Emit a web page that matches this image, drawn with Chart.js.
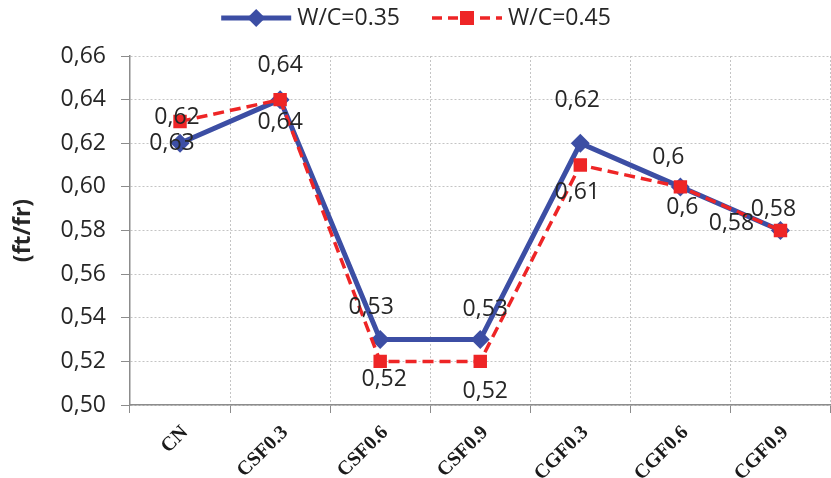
<!DOCTYPE html>
<html>
<head>
<meta charset="utf-8">
<script src="https://cdn.jsdelivr.net/npm/chart.js@4.4.0/dist/chart.umd.min.js"></script>
<style>
  html, body { margin: 0; padding: 0; background: #fff; overflow: hidden; }
  #wrap { position: relative; width: 840px; height: 478px; }
</style>
</head>
<body>
<div id="wrap"><canvas id="chart" width="840" height="478"></canvas></div>
<script>
// ---------------------------------------------------------------------------
// Data
// ---------------------------------------------------------------------------
const categories = ["CN", "CSF0.3", "CSF0.6", "CSF0.9", "CGF0.3", "CGF0.6", "CGF0.9"];
const wc035 = [0.62, 0.64, 0.53, 0.53, 0.62, 0.60, 0.58];
const wc045 = [0.63, 0.64, 0.52, 0.52, 0.61, 0.60, 0.58];
const yTicks = [0.50, 0.52, 0.54, 0.56, 0.58, 0.60, 0.62, 0.64, 0.66];

// label placement (pixels, relative to the point) — mirrors the hand-placed Excel labels
const labelShift035 = [[-3, -26], [0, -34], [-9, -32], [5, -30], [-3, -43], [-12, -29], [-7, -21]];
const labelShift045 = [[-8, 22], [0, 23], [4, 18], [5, 30], [-3, 27], [2, 21], [-49, -7]];

const BLUE = "#3c4ea4";
const RED = "#ee2526";
const TEXT = "#262626";
const SANS = "'Open Sans', sans-serif";
const FONT_PX = 23;

const comma = (v) => String(v).replace(".", ",");

// ---------------------------------------------------------------------------
// Value labels
// ---------------------------------------------------------------------------
const valueLabels = {
    id: "valueLabels",
    afterDatasetsDraw(chart) {
        const ctx = chart.ctx;
        const shifts = [labelShift035, labelShift045];
        ctx.save();
        ctx.font = FONT_PX + "px " + SANS;
        ctx.fillStyle = TEXT;
        ctx.textAlign = "center";
        ctx.textBaseline = "middle";
        chart.data.datasets.forEach((ds, di) => {
            const meta = chart.getDatasetMeta(di);
            meta.data.forEach((pt, i) => {
                const [dx, dy] = shifts[di][i];
                ctx.fillText(comma(ds.data[i]), pt.x + dx, pt.y + dy);
            });
        });
        ctx.restore();
    },
};

// ---------------------------------------------------------------------------
// Legend: line + marker swatches, centred above the plot (Excel style)
// ---------------------------------------------------------------------------
const lineLegend = {
    id: "lineLegend",
    afterDraw(chart) {
        const ctx = chart.ctx;
        const cy = 18, swW = 70, gap = 6, itemGap = 32, centre = 416;
        ctx.save();
        ctx.font = FONT_PX + "px " + SANS;
        const items = chart.data.datasets.map((ds) => ({ ds, w: swW + gap + ctx.measureText(ds.label).width }));
        const total = items.reduce((s, it) => s + it.w, 0) + itemGap * (items.length - 1);
        let x = centre - total / 2;
        items.forEach(({ ds }, i) => {
            const dashed = Array.isArray(ds.borderDash) && ds.borderDash.length > 0;
            ctx.strokeStyle = ds.borderColor;
            ctx.fillStyle = ds.borderColor;
            ctx.lineWidth = ds.borderWidth;
            ctx.setLineDash(dashed ? [10, 6] : []);
            ctx.beginPath();
            ctx.moveTo(x, cy);
            ctx.lineTo(x + swW, cy);
            ctx.stroke();
            ctx.setLineDash([]);
            const mx = x + swW / 2;
            if (dashed) {
                ctx.fillRect(mx - 7, cy - 7, 14, 14);
            } else {
                ctx.beginPath();
                ctx.moveTo(mx, cy - 9);
                ctx.lineTo(mx + 9, cy);
                ctx.lineTo(mx, cy + 9);
                ctx.lineTo(mx - 9, cy);
                ctx.closePath();
                ctx.fill();
            }
            ctx.fillStyle = TEXT;
            ctx.textAlign = "left";
            ctx.textBaseline = "middle";
            ctx.fillText(ds.label, x + swW + gap, cy);
            x += items[i].w + itemGap;
        });
        ctx.restore();
    },
};

// ---------------------------------------------------------------------------
// Chart
// ---------------------------------------------------------------------------
const gridStyle = {
    color: "#c4c4c4",
    tickColor: "#8c8c8c",
    tickBorderDash: [],
    drawOnChartArea: true,
};

new Chart(document.getElementById("chart"), {
    type: "line",
    data: {
        labels: categories,
        datasets: [
            {
                label: "W/C=0.35",
                data: wc035,
                borderColor: BLUE,
                backgroundColor: BLUE,
                borderWidth: 5,
                pointStyle: "rectRot",
                pointRadius: 9.5,
                pointBorderWidth: 0,
                tension: 0,
                order: 2,
            },
            {
                label: "W/C=0.45",
                data: wc045,
                borderColor: RED,
                backgroundColor: RED,
                borderWidth: 3.5,
                borderDash: [11, 6],
                pointStyle: "rect",
                pointRadius: 9.5,
                pointBorderWidth: 0,
                tension: 0,
                order: 1,
            },
        ],
    },
    options: {
        responsive: false,
        animation: false,
        layout: { padding: { top: 56, left: 0, right: 0, bottom: 0 } },
        plugins: {
            tooltip: { enabled: false },
            legend: { display: false },
        },
        scales: {
            x: {
                type: "category",
                offset: true,
                afterFit(scale) { scale.height = 73; },
                grid: { ...gridStyle, offset: true, tickLength: 8 },
                border: { color: "#8c8c8c", width: 1.5, dash: [2, 2] },
                ticks: {
                    color: "#1a1a1a",
                    autoSkip: false,
                    minRotation: 45,
                    maxRotation: 45,
                    padding: 8,
                    labelOffset: 5,
                    font: { family: "'Liberation Serif', 'Times New Roman', serif", size: 20, weight: "bold" },
                },
            },
            y: {
                min: 0.50,
                max: 0.66,
                afterFit(scale) { scale.width = 130; },
                afterBuildTicks(scale) { scale.ticks = yTicks.map((v) => ({ value: v })); },
                grid: { ...gridStyle, tickLength: 9 },
                border: { color: "#8c8c8c", width: 1.5, dash: [2, 2] },
                ticks: {
                    color: TEXT,
                    padding: 15,
                    font: { family: SANS, size: FONT_PX },
                    callback: (v) => comma(Number(v).toFixed(2)),
                },
                title: {
                    display: true,
                    text: "(ft/fr)",
                    color: TEXT,
                    padding: { top: 10, bottom: 0 },
                    font: { family: SANS, size: FONT_PX, weight: "bold" },
                },
            },
        },
    },
    plugins: [valueLabels, lineLegend],
});
</script>
</body>
</html>
